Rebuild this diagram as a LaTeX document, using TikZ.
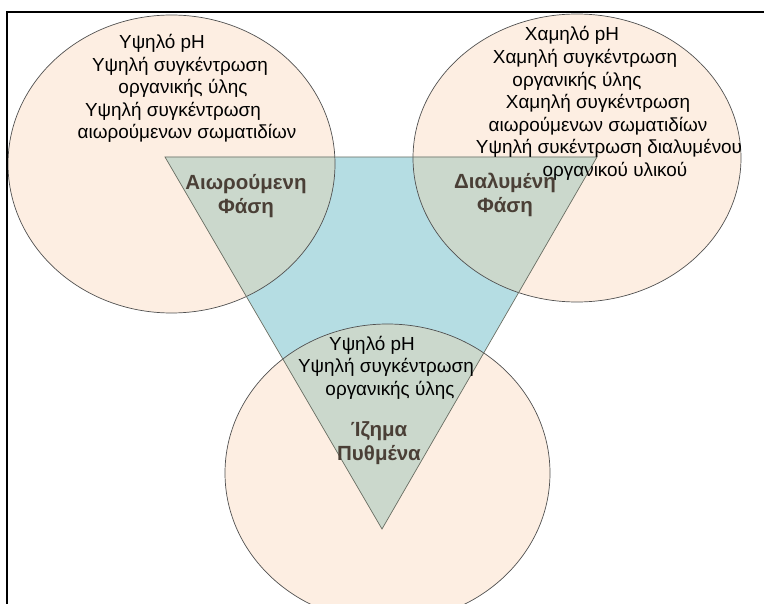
\documentclass[tikz,border=0pt]{standalone}
\usepackage{fontspec}
\setmainfont{Liberation Sans}
\usetikzlibrary{positioning}
\definecolor{PhaseFill}{HTML}{FDEEE2}
\definecolor{TriFill}{HTML}{B5DDE3}
\definecolor{MixFill}{HTML}{CBD8CC}
\definecolor{RimGray}{HTML}{505050}
\definecolor{TriEdge}{HTML}{6B6E62}
\definecolor{LabelBrown}{HTML}{4A3F36}

\begin{document}
\begin{tikzpicture}[x=1pt, y=-1pt, every node/.style={align=center, font=\fontsize{18.9}{22.6}\selectfont},
    phase/.style={font=\bfseries\fontsize{20.5}{24.5}\selectfont, text=LabelBrown},
    rim/.style={draw=RimGray, line width=0.7pt}]
  \useasboundingbox (0,0) rectangle (764,604);
  \clip (0,0) rectangle (764,604);
  \coordinate (susp) at (171.5,164);
  \coordinate (diss) at (577,158);
  \coordinate (sed) at (387.5,473);
  \coordinate (tl) at (165,157);
  \coordinate (tr) at (597,157);
  \coordinate (tb) at (382,529);
  % the three phases
  \fill[PhaseFill] (susp) ellipse [x radius=163.5pt, y radius=149pt];
  \fill[PhaseFill] (diss) ellipse [x radius=164pt, y radius=144pt];
  \fill[PhaseFill] (sed) ellipse [x radius=162.5pt, y radius=149pt];
  % triangle and overlaps
  \fill[TriFill] (tl) -- (tr) -- (tb) -- cycle;
  \begin{scope}
    \clip (tl) -- (tr) -- (tb) -- cycle;
    \fill[MixFill] (susp) ellipse [x radius=163.5pt, y radius=149pt];
    \fill[MixFill] (diss) ellipse [x radius=164pt, y radius=144pt];
    \fill[MixFill] (sed) ellipse [x radius=162.5pt, y radius=149pt];
  \end{scope}
  \draw[rim] (susp) ellipse [x radius=163.5pt, y radius=149pt];
  \draw[rim] (diss) ellipse [x radius=164pt, y radius=144pt];
  \draw[rim] (sed) ellipse [x radius=162.5pt, y radius=149pt];
  \draw[draw=TriEdge, line width=0.7pt] (tl) -- (tr) -- (tb) -- cycle;
  % texts
  \node (susptext) at (180,88.5) {\hspace*{-36pt}Υψηλό pH\\Υψηλή συγκέντρωση\\\hspace*{6pt}οργανικής ύλης\\\hspace*{-14pt}Υψηλή συγκέντρωση\\\hspace*{14pt}αιωρούμενων σωματιδίων};
  \node (disstext) at (598,103.5) {\hspace*{-52pt}Χαμηλό pH\\\hspace*{-26pt}Χαμηλή συγκέντρωση\\\hspace*{-42pt}οργανικής ύλης\\Χαμηλή συγκέντρωση\\αιωρούμενων σωματιδίων\\\hspace*{22pt}Υψηλή συκέντρωση διαλυμένου\\\hspace*{34pt}οργανικού υλικού};
  \node (sedtext) at (386,367.5) {\hspace*{-28pt}Υψηλό pH\\Υψηλή συγκέντρωση\\\hspace*{8pt}οργανικής ύλης};
  \node[phase] (susplabel) at (246,196) {Αιωρούμενη\\Φάση};
  \node[phase] (disslabel) at (505,195) {Διαλυμένη\\Φάση};
  \node[phase] (sedlabel) at (379,443) {Ίζημα\\Πυθμένα};
  % frame
  \draw[line width=2pt] (6,12) -- (764,12);
  \draw[line width=2pt] (7,12) -- (7,604);
\end{tikzpicture}
\end{document}
